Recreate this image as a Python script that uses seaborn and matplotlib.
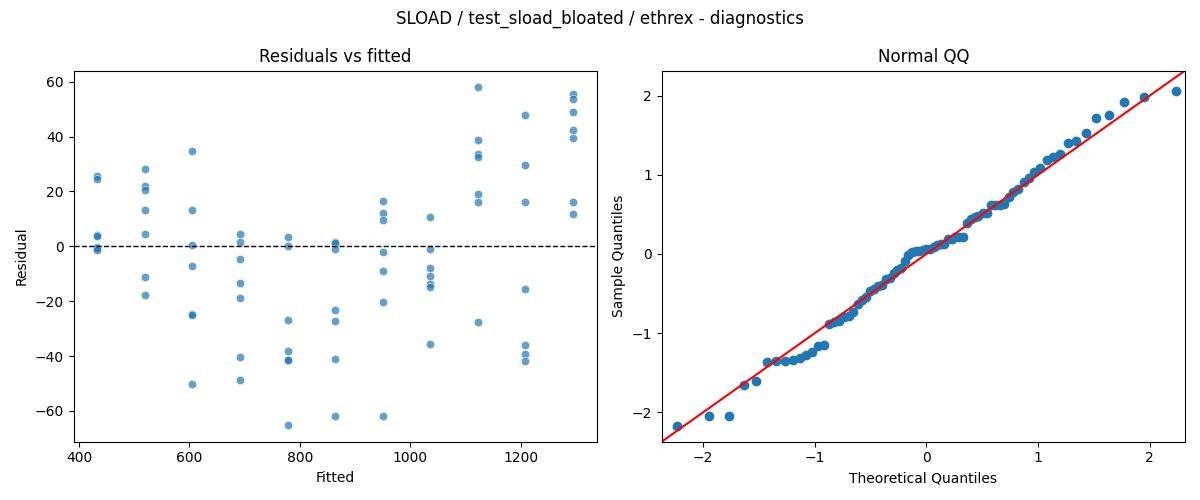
from statistics import NormalDist

import matplotlib

matplotlib.use("Agg")
import matplotlib.pyplot as plt
import numpy as np
import pandas as pd
import seaborn as sns

# fitted value of each group
fitted_levels = [433, 520, 605, 692, 779, 864, 951, 1036, 1123, 1208, 1295]

# residuals, one list per fitted level
residuals = [
    [25.8, 24.4, 4.1, 3.7, -0.2, -0.6, -1.3],
    [28.0, 21.9, 20.7, 13.1, 4.4, -11.3, -17.8],
    [34.9, 13.1, 0.4, -7.3, -24.7, -25.1, -50.2],
    [4.4, 1.6, -4.7, -13.5, -18.9, -40.3, -48.7],
    [3.4, 0.0, -26.8, -38.2, -41.5, -41.3, -65.1],
    [1.7, 1.2, -0.9, -23.2, -27.2, -41.0, -61.7],
    [16.5, 12.1, 9.5, -2.2, -9.1, -20.3, -61.7],
    [10.7, -0.9, -8.0, -10.9, -13.7, -15.0, -35.6],
    [57.9, 38.9, 33.8, 32.7, 18.9, 16.0, -27.6],
    [48.0, 29.5, 16.0, -15.6, -36.0, -39.3, -41.8],
    [55.7, 53.8, 49.1, 42.5, 39.6, 16.0, 11.6],
]

title = "SLOAD / test_sload_bloated / ethrex - diagnostics"

rows = []
for f, group in zip(fitted_levels, residuals):
    for r in group:
        rows.append({"fitted": f, "resid": r})
df = pd.DataFrame(rows)

# normal QQ: standardised residuals vs normal quantiles at i/(n+1)
resid = np.sort(df["resid"].to_numpy())
n = len(resid)
sample_q = (resid - resid.mean()) / resid.std()
theo_q = np.array([NormalDist().inv_cdf(i / (n + 1)) for i in range(1, n + 1)])
qq = pd.DataFrame({"theoretical": theo_q, "sample": sample_q})

fig, axes = plt.subplots(1, 2, figsize=(12, 5))

ax = axes[0]
sns.scatterplot(data=df, x="fitted", y="resid", alpha=0.7, ax=ax)
ax.axhline(0, color="black", linestyle="--", linewidth=1)
ax.set_title("Residuals vs fitted")
ax.set_xlabel("Fitted")
ax.set_ylabel("Residual")

ax = axes[1]
sns.scatterplot(data=qq, x="theoretical", y="sample", color="C0",
                edgecolor="C0", linewidth=1, s=36, ax=ax)
lims = (-2.37, 2.315)
ax.plot(lims, lims, color="red", linewidth=1.5)
ax.set_xlim(lims)
ax.set_ylim(lims)
ax.set_title("Normal QQ")
ax.set_xlabel("Theoretical Quantiles")
ax.set_ylabel("Sample Quantiles")

fig.suptitle(title)
plt.tight_layout()
plt.savefig("out.png", dpi=100)
plt.close()
